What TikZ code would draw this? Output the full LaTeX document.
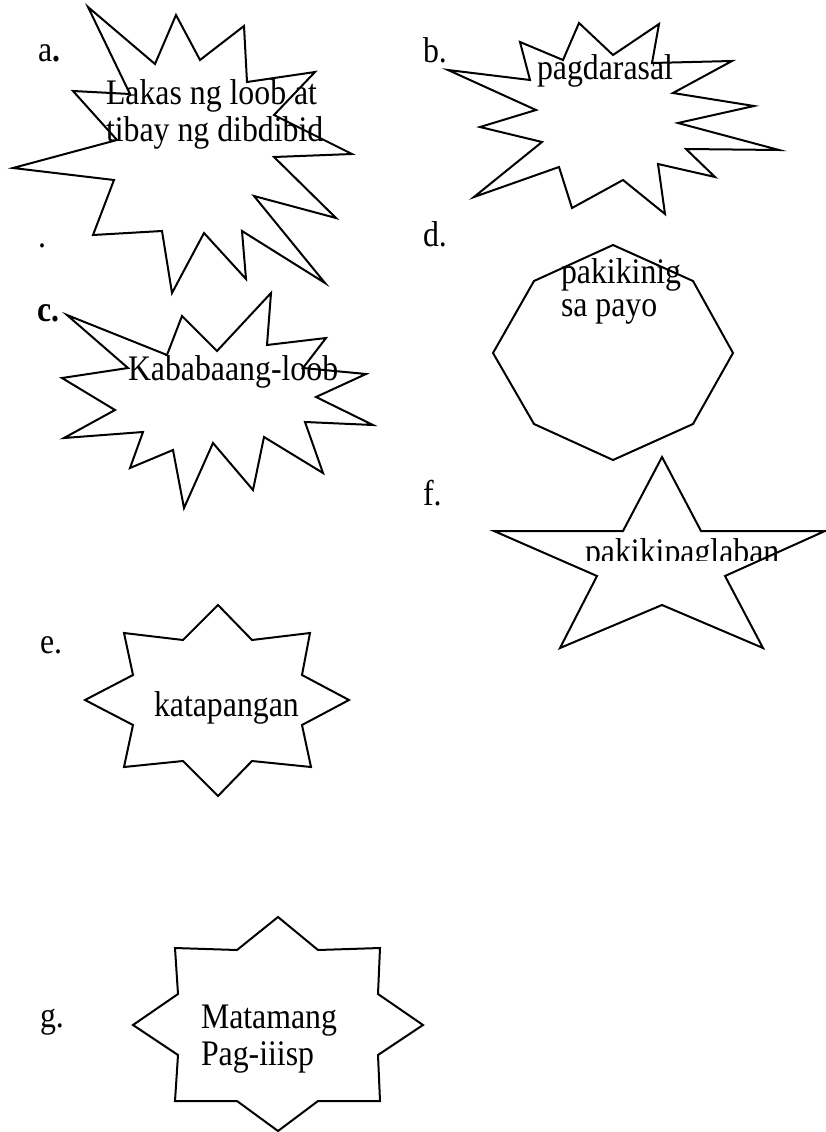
\documentclass[tikz,border=0pt]{standalone}
\usepackage{graphicx}
\usepackage{fontspec}
\setmainfont{Liberation Serif}
\newcommand\tallt[1]{\scalebox{1}[1.13]{#1}}
\tikzset{
  shapeline/.style={draw=black, line width=2pt, line join=miter, fill=white},
  txt/.style={anchor=base west, inner sep=0pt, outer sep=0pt, font=\fontsize{31.8pt}{37pt}\selectfont},
}
\begin{document}
\begin{tikzpicture}[x=1pt,y=-1pt]
\useasboundingbox (0,0) rectangle (825,1132);
% star a
\draw[shapeline] (88,7) -- (155,64) -- (176,15) -- (200,60) -- (244,26) -- (247,82) -- (315,72) -- (274,115) -- (352,154) -- (274,157) -- (336,218) -- (254,196) -- (325,283) -- (242,231) -- (246,279) -- (204,233) -- (172,293) -- (162,231) -- (93,235) -- (114,180) -- (13,168) -- (117,140) -- (73,91) -- (130,94) -- cycle;
% star b
\draw[shapeline] (448,70) -- (530,80) -- (520,42) -- (563,60) -- (579,23) -- (613,55) -- (659,24) -- (652,63) -- (732,61) -- (673,93) -- (754,106) -- (678,123) -- (779,150) -- (686,149) -- (715,177) -- (658,164) -- (665,214) -- (623,180) -- (572,208) -- (559,167) -- (474,197) -- (542,142) -- (480,127) -- (536,110) -- cycle;
% star c
\draw[shapeline] (67,315) -- (167,355) -- (182,316) -- (217,351) -- (271,293) -- (267,345) -- (326,338) -- (303,368) -- (366,374) -- (316,397) -- (373,425) -- (305,422) -- (323,473) -- (264,437) -- (253,490) -- (213,443) -- (184,508) -- (173,450) -- (130,468) -- (143,432) -- (64,438) -- (115,410) -- (62,378) -- (128,368) -- cycle;
% octagon d
\draw[shapeline] (613,245) -- (693,281) -- (733,353) -- (693,424) -- (613,460) -- (534,424) -- (493,353) -- (534,281) -- cycle;
% star f
\draw[shapeline] (662,457) -- (701,531) -- (825,531) -- (725,576) -- (763,648) -- (662,605) -- (560,648) -- (597,576) -- (494,531) -- (623,531) -- cycle;
% star e
\draw[shapeline] (218,605) -- (252,640) -- (310,633) -- (302,675) -- (349,700) -- (302,725) -- (311,767) -- (252,761) -- (218,796) -- (183,761) -- (124,767) -- (133,725) -- (85,700) -- (133,675) -- (124,633) -- (183,640) -- cycle;
% star g
\draw[shapeline] (278,917) -- (318,950) -- (380,948) -- (378,994) -- (423,1025) -- (378,1055) -- (380,1101) -- (318,1101) -- (278,1131) -- (237,1101) -- (175,1101) -- (178,1055) -- (133,1025) -- (178,994) -- (175,948) -- (237,950) -- cycle;
% labels
\node[txt] (la) at (38,62) {\tallt{a\textbf{.}}};
\node[txt] (ldot) at (38,247) {\tallt{.}};
\node[txt] (lb) at (423,63) {\tallt{b.}};
\node[txt] (lc) at (37,321) {\tallt{\textbf{c.}}};
\node[txt] (ld) at (423,246) {\tallt{d.}};
\node[txt] (lf) at (423,505) {\tallt{f.}};
\node[txt] (le) at (40,653) {\tallt{e.}};
\node[txt] (lg) at (40,1027) {\tallt{g.}};
% texts
\node[txt] (ta1) at (106,104) {\tallt{Lakas ng loob at}};
\node[txt] (ta2) at (106,141) {\tallt{tibay ng dibdibid}};
\node[txt] (tb) at (537,79) {\tallt{pagdarasal}};
\node[txt] (tc) at (128,380) {\tallt{Kababaang-loob}};
\node[txt] (td1) at (561,283) {\tallt{pakikinig}};
\node[txt] (td2) at (561,316) {\tallt{sa payo}};
\begin{scope}
\clip (560,520) rectangle (825,560);
\node[txt] (tf) at (585,563) {\tallt{pakikipaglaban}};
\end{scope}
\node[txt] (te) at (154,716) {\tallt{katapangan}};
\node[txt] (tg1) at (201,1028) {\tallt{Matamang}};
\node[txt] (tg2) at (201,1065) {\tallt{Pag-iiisp}};
\end{tikzpicture}
\end{document}
